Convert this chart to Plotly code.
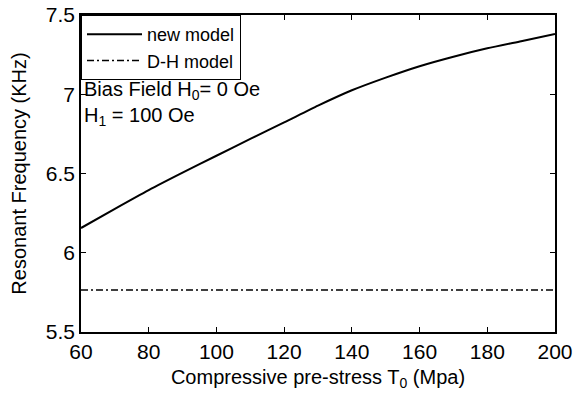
import plotly.graph_objects as go

# Compressive pre-stress (MPa)
stress = [60, 70, 80, 90, 100, 110, 120, 130, 140, 150, 160, 170, 180, 190, 200]
# Resonant frequency, new model (kHz)
freq_new = [6.156, 6.277, 6.395, 6.505, 6.612, 6.718, 6.822, 6.928, 7.025, 7.105, 7.177, 7.237, 7.29, 7.335, 7.38]
# Resonant frequency, D-H model (kHz), constant
freq_dh = [5.765] * len(stress)

x_ticks = [60, 80, 100, 120, 140, 160, 180, 200]
y_ticks = [5.5, 6, 6.5, 7, 7.5]
y_tick_text = ["5.5", "6", "6.5", "7", "7.5"]

font_family = "Liberation Sans, Arial, sans-serif"

fig = go.Figure()
fig.add_trace(go.Scatter(
    x=stress, y=freq_new, mode="lines", name="new model",
    line=dict(color="black", width=2, shape="spline", smoothing=0.6),
))
fig.add_trace(go.Scatter(
    x=stress, y=freq_dh, mode="lines", name="D-H model",
    line=dict(color="black", width=1.5, dash="7px,3px,2px,3px"),
))

fig.add_annotation(
    x=0, y=0.806, xref="paper", yref="paper", xanchor="left", yanchor="top",
    text="Bias Field H<sub>0</sub>= 0 Oe<br>H<sub>1</sub> = 100 Oe",
    showarrow=False, align="left",
    font=dict(family=font_family, size=20, color="black"),
    xshift=1,
)

axis_common = dict(
    showline=True, linecolor="black", linewidth=1.5, mirror="ticks",
    ticks="inside", ticklen=5, tickwidth=1.2, tickcolor="black",
    showgrid=False, zeroline=False, automargin=False,
    tickfont=dict(family=font_family, size=21, color="black"),
)

fig.update_layout(
    width=575, height=402,
    margin=dict(l=81, r=20, t=15, b=70),
    paper_bgcolor="white", plot_bgcolor="white",
    font=dict(family=font_family, color="black"),
    showlegend=True,
    legend=dict(
        x=0, y=1, xanchor="left", yanchor="top",
        bgcolor="white", bordercolor="black", borderwidth=1,
        font=dict(family=font_family, size=18, color="black"),
        tracegroupgap=0, itemwidth=55,
    ),
    xaxis=dict(
        range=[60, 200], tickvals=x_ticks,
        title=dict(text="Compressive pre-stress T<sub>0</sub> (Mpa)",
                   font=dict(family=font_family, size=20, color="black"),
                   standoff=8),
        **axis_common,
    ),
    yaxis=dict(
        range=[5.5, 7.5], tickvals=y_ticks, ticktext=y_tick_text,
        title=dict(text="Resonant Frequency (KHz)",
                   font=dict(family=font_family, size=20, color="black"),
                   standoff=14),
        **axis_common,
    ),
)

fig.write_html("out.html")
